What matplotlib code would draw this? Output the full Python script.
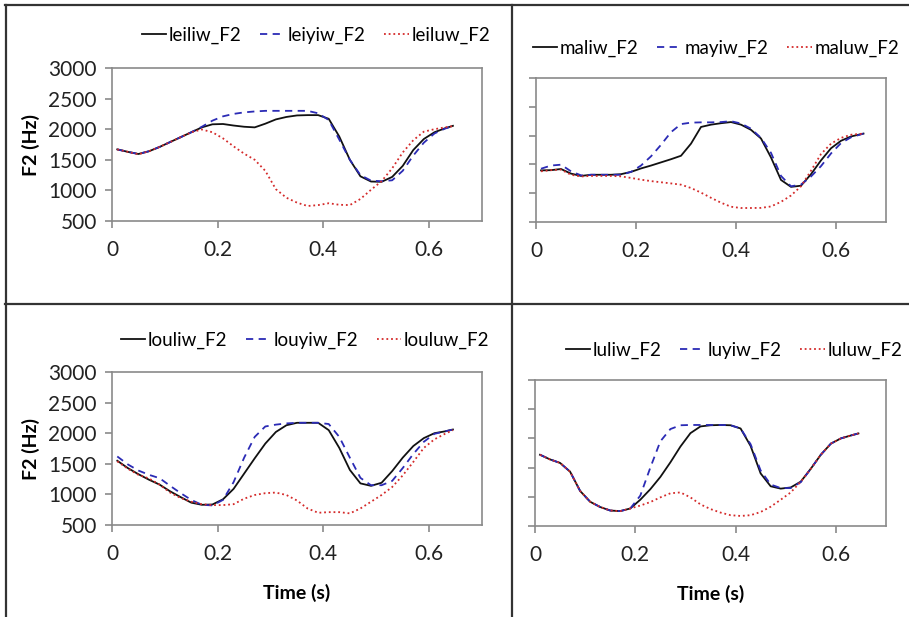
import matplotlib
matplotlib.use("Agg")
import matplotlib.pyplot as plt
from matplotlib.lines import Line2D

plt.rcParams['font.family'] = ['Lato', 'DejaVu Sans']

W, H = 909, 617

# ---------------- data ----------------
t_common = [0.01, 0.03, 0.05, 0.07, 0.09, 0.11, 0.13, 0.15, 0.17, 0.19, 0.21,
            0.23, 0.25, 0.27, 0.29, 0.31, 0.33, 0.35, 0.37, 0.39, 0.41, 0.43,
            0.45, 0.47, 0.49, 0.51, 0.53, 0.55, 0.57, 0.59, 0.61, 0.63, 0.645]
t_ma = t_common[:-1] + [0.655]

leiliw = [1670, 1630, 1595, 1640, 1710, 1790, 1870, 1950, 2030, 2080, 2085,
          2060, 2040, 2030, 2090, 2160, 2200, 2225, 2230, 2230, 2170, 1880,
          1500, 1230, 1145, 1140, 1220, 1400, 1660, 1840, 1950, 2015, 2055]
leiyiw = [1670, 1630, 1595, 1640, 1710, 1790, 1870, 1950, 2040, 2140, 2210,
          2250, 2275, 2290, 2300, 2300, 2300, 2300, 2300, 2260, 2150, 1830,
          1500, 1250, 1160, 1150, 1165, 1320, 1570, 1780, 1930, 2010, 2050]
leiluw = [1670, 1630, 1590, 1640, 1710, 1790, 1870, 1950, 1995, 1950, 1850,
          1720, 1600, 1500, 1320, 1020, 880, 800, 745, 760, 790, 765,
          760, 860, 1010, 1150, 1360, 1620, 1820, 1960, 2000, 2030, 2050]

maliw = [1396, 1400, 1420, 1340, 1300, 1320, 1320, 1320, 1330, 1370, 1430,
         1480, 1535, 1590, 1650, 1860, 2150, 2190, 2215, 2235, 2190, 2100,
         1950, 1620, 1230, 1110, 1130, 1330, 1570, 1780, 1910, 1985, 2035]
mayiw = [1425, 1480, 1495, 1380, 1310, 1320, 1320, 1320, 1320, 1370, 1480,
         1640, 1840, 2060, 2200, 2225, 2230, 2230, 2235, 2250, 2210, 2120,
         1960, 1700, 1300, 1120, 1150, 1290, 1470, 1690, 1870, 1970, 2035]
maluw = [1380, 1400, 1410, 1320, 1290, 1300, 1300, 1300, 1292, 1265, 1235,
         1210, 1190, 1170, 1148, 1090, 1010, 920, 835, 765, 743, 743,
         745, 770, 850, 960, 1120, 1390, 1680, 1860, 1960, 2015, 2035]

louliw = [1550, 1430, 1330, 1240, 1160, 1050, 955, 865, 830, 835, 920,
          1090, 1340, 1590, 1830, 2020, 2130, 2170, 2170, 2170, 2050, 1760,
          1400, 1180, 1140, 1190, 1380, 1600, 1790, 1920, 2000, 2030, 2060]
louyiw = [1620, 1490, 1390, 1320, 1265, 1140, 1020, 910, 830, 820, 910,
          1200, 1600, 1940, 2110, 2140, 2160, 2170, 2170, 2170, 2150, 1940,
          1600, 1270, 1150, 1150, 1220, 1430, 1660, 1860, 1990, 2030, 2060]
louluw = [1540, 1420, 1320, 1260, 1160, 1030, 940, 880, 840, 825, 825,
          840, 930, 990, 1020, 1030, 990, 900, 770, 700, 710, 710,
          690, 770, 880, 990, 1120, 1310, 1530, 1760, 1900, 1990, 2050]

luliw = [1720, 1640, 1580, 1430, 1100, 915, 825, 765, 755, 800, 950,
         1130, 1340, 1590, 1860, 2090, 2205, 2225, 2230, 2225, 2170, 1870,
         1400, 1180, 1140, 1160, 1260, 1480, 1720, 1910, 2000, 2050, 2085]
luyiw = [1720, 1640, 1580, 1430, 1100, 915, 825, 765, 755, 800, 1020,
         1500, 1950, 2160, 2225, 2230, 2230, 2230, 2230, 2225, 2170, 1900,
         1450, 1210, 1150, 1150, 1250, 1480, 1720, 1910, 2000, 2050, 2085]
luluw = [1720, 1640, 1580, 1430, 1100, 915, 825, 765, 755, 800, 850,
         910, 990, 1060, 1075, 990, 870, 790, 730, 685, 672, 685,
         740, 830, 950, 1075, 1260, 1480, 1720, 1910, 2000, 2050, 2085]

panels = [
    dict(t=t_common, series=[leiliw, leiyiw, leiluw],
         names=['leiliw_F2', 'leiyiw_F2', 'leiluw_F2'],
         box=(112, 482, 68, 221), ylab=True, xlab=False, leg=(316, 35)),
    dict(t=t_ma, series=[maliw, mayiw, maluw],
         names=['maliw_F2', 'mayiw_F2', 'maluw_F2'],
         box=(536, 886, 78, 222), ylab=False, xlab=False, leg=(716, 48)),
    dict(t=t_common, series=[louliw, louyiw, louluw],
         names=['louliw_F2', 'louyiw_F2', 'louluw_F2'],
         box=(112, 482, 372, 525), ylab=True, xlab=True, leg=(305, 340)),
    dict(t=t_common, series=[luliw, luyiw, luluw],
         names=['luliw_F2', 'luyiw_F2', 'luluw_F2'],
         box=(535, 886, 380, 526), ylab=False, xlab=True, leg=(734, 350)),
]

colors = ['#111111', '#2B2BB5', '#D42A2A']
styles = ['-', (0, (4, 3)), (0, (1, 1.6))]
xticks = [0, 0.2, 0.4, 0.6]
yticks = [500, 1000, 1500, 2000, 2500, 3000]

fig = plt.figure(figsize=(W / 100, H / 100), dpi=100)

for p in panels:
    l, r, t, b = p['box']
    ax = fig.add_axes([l / W, 1 - b / H, (r - l) / W, (b - t) / H])
    for s, c, ls, n in zip(p['series'], colors, styles, p['names']):
        ax.plot(p['t'], s, color=c, linestyle=ls, lw=1.3, label=n)
    ax.set_xlim(0, 0.7)
    ax.set_ylim(500, 3000)
    ax.set_xticks(xticks)
    ax.set_xticklabels(['0', '0.2', '0.4', '0.6'])
    ax.set_yticks(yticks)
    if not p['ylab']:
        ax.set_yticklabels([])
    else:
        ax.set_ylabel('F2 (Hz)', fontsize=14, fontweight='bold', labelpad=6)
    if p['xlab']:
        ax.set_xlabel('Time (s)', fontsize=14, fontweight='bold', labelpad=14)
    for sp in ax.spines.values():
        sp.set_color('#8a8a8a')
        sp.set_linewidth(1.2)
    ax.tick_params(axis='x', pad=9)
    ax.tick_params(axis='y', pad=6)
    ax.tick_params(direction='out', length=5, width=1.2, color='#8a8a8a',
                   labelsize=15, labelcolor='#222222')
    lx, ly = p['leg']
    ax.legend(loc='center', bbox_to_anchor=(lx / W, 1 - ly / H),
              bbox_transform=fig.transFigure, ncol=3, frameon=False,
              fontsize=13.5, handlelength=1.3, handletextpad=0.15,
              columnspacing=1.0, borderpad=0)

# table borders
def hline(y, x0, x1):
    fig.add_artist(Line2D([x0 / W, x1 / W], [1 - y / H, 1 - y / H],
                          color='#333333', lw=1.6))

def vline(x, y0, y1):
    fig.add_artist(Line2D([x / W, x / W], [1 - y0 / H, 1 - y1 / H],
                          color='#333333', lw=1.6))

hline(5, 5, 909)
hline(304, 5, 909)
vline(6, 5, 617)
vline(512, 5, 617)

fig.savefig('out.png', dpi=100)
